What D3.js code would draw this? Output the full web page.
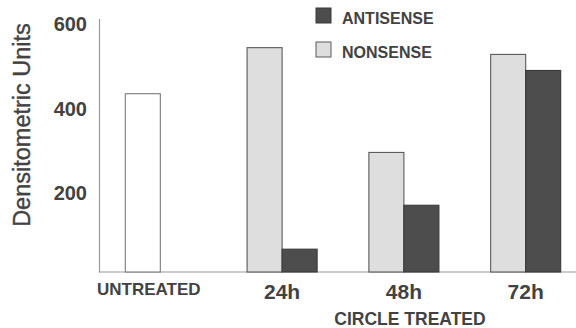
<!DOCTYPE html>
<html>
<head>
<meta charset="utf-8">
<script src="https://cdn.jsdelivr.net/npm/d3@7"></script>
<style>
  html, body { margin: 0; padding: 0; background: #fff; }
  svg { display: block; font-family: "Liberation Sans", Arial, sans-serif; }
</style>
</head>
<body>
<div id="chart"></div>
<script>
const groups = ["UNTREATED", "24h", "48h", "72h"];
const series = ["NONSENSE", "ANTISENSE"];
const nonsense = [422, 531, 283, 515];
const antisense = [null, 54, 158, 477];
const yTicks = [200, 400, 600];

const width = 576, height = 328;
const svg = d3.select("#chart").append("svg").attr("width", width).attr("height", height);

const x0 = d3.scaleBand().domain(groups).range([99, 587]).paddingInner(0.425).paddingOuter(0.216);
const x1 = d3.scaleBand().domain(series).range([0, x0.bandwidth()]);
const y = d3.scaleLinear().domain([0, 600]).range([272, 18.5]);

const fill = { UNTREATED: "#ffffff", NONSENSE: "#dedede", ANTISENSE: "#4d4d4d" };
const stroke = { UNTREATED: "#7a7a7a", NONSENSE: "#5a5a5a", ANTISENSE: "#3a3a3a" };

// axis
const yAxis = svg.append("g")
  .attr("transform", `translate(${x0.range()[0]},0)`)
  .call(d3.axisLeft(y).tickValues(yTicks).tickSize(0).tickSizeOuter(0).tickPadding(12));
yAxis.select(".domain").attr("stroke", "#9a9a9a").attr("stroke-width", 1.2);
yAxis.selectAll("text")
  .attr("font-family", "Liberation Sans, Arial, sans-serif")
  .attr("font-size", 20).attr("font-weight", "bold").attr("fill", "#424242")
  .attr("dy", "0.62em");

svg.append("line")
  .attr("x1", x0.range()[0]).attr("x2", width)
  .attr("y1", y(0)).attr("y2", y(0))
  .attr("stroke", "#9a9a9a").attr("stroke-width", 1.2);

svg.append("text")
  .attr("transform", `translate(30,${125}) rotate(-90)`)
  .attr("text-anchor", "middle")
  .attr("font-size", 23.5).attr("fill", "#424242")
  .attr("stroke", "#424242").attr("stroke-width", 0.4)
  .text("Densitometric Units");

// bars
const bars = [];
groups.forEach((g, i) => {
  if (nonsense[i] != null) bars.push({ g, s: "NONSENSE", v: nonsense[i], style: i === 0 ? "UNTREATED" : "NONSENSE" });
  if (antisense[i] != null) bars.push({ g, s: "ANTISENSE", v: antisense[i], style: "ANTISENSE" });
});

svg.append("g").selectAll("rect").data(bars).join("rect")
  .attr("x", d => x0(d.g) + x1(d.s))
  .attr("y", d => y(d.v))
  .attr("width", x1.bandwidth())
  .attr("height", d => y(0) - y(d.v))
  .attr("fill", d => fill[d.style])
  .attr("stroke", d => stroke[d.style])
  .attr("stroke-width", 1.1);

// category labels
svg.append("g").selectAll("text").data(groups).join("text")
  .attr("x", (d, i) => i === 0 ? x0(d) + x1("NONSENSE") + x1.bandwidth() / 2 + 6 : x0(d) + x0.bandwidth() / 2)
  .attr("y", (d, i) => i === 0 ? 295 : 299)
  .attr("text-anchor", "middle")
  .attr("font-size", (d, i) => i === 0 ? 17 : 21)
  .attr("font-weight", "bold").attr("fill", "#424242")
  .text(d => d);

svg.append("text")
  .attr("x", 410).attr("y", 325)
  .attr("text-anchor", "middle")
  .attr("font-size", 17.5).attr("font-weight", "bold").attr("fill", "#424242")
  .text("CIRCLE TREATED");

// legend
const legend = svg.append("g").attr("transform", "translate(316,8)");
const legendItems = ["ANTISENSE", "NONSENSE"];
const li = legend.selectAll("g").data(legendItems).join("g")
  .attr("transform", (d, i) => `translate(0,${i * 34})`);
li.append("rect").attr("width", 15).attr("height", 15)
  .attr("fill", d => fill[d]).attr("stroke", d => stroke[d]).attr("stroke-width", 1);
li.append("text").attr("x", 26).attr("y", 16)
  .attr("font-size", 16).attr("font-weight", "bold").attr("fill", "#424242")
  .text(d => d);
</script>
</body>
</html>
